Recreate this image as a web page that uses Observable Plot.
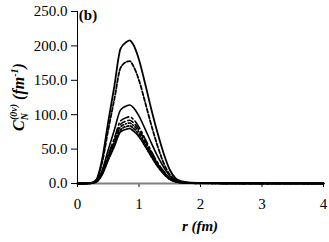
<!DOCTYPE html>
<html><head><meta charset="utf-8">
<script src="https://cdn.jsdelivr.net/npm/d3@7"></script>
<script src="https://cdn.jsdelivr.net/npm/@observablehq/plot@0.6"></script>
<style>
body{margin:0;background:#fff;position:relative;width:329px;height:242px}
#xlabel{position:absolute;left:200px;top:218px;transform:translateX(-50%);font:italic bold 15px "Liberation Serif";line-height:16px;white-space:nowrap;color:#000}
</style>
</head><body><div id="chart"></div>
<div id="xlabel">r (fm)</div>
<script>
const r  = [0,0.1,0.2,0.3,0.4,0.5,0.6,0.7,0.8,0.85,0.9,1.0,1.1,1.2,1.3,1.4,1.5,1.6,1.7,1.8,2.0,2.5,3.0,3.5,4.0];
const s1 = [0,0,0.5,5,35,90,142,196,206,208,203,180,145,108,74,44,20,7,3,1.5,0.8,0.4,0.2,0.1,0.05];
const s2 = [0,0,0.4,4,30,78,123,168,177,178,172,150,118,85,55,30,13,5,2,1,0.5,0.3,0.15,0.1,0.05];
const s3 = [0,0,0.3,3,19,49,78,107,113,114,111,98,79,59,40,24,11,4,2,1,0.5,0.2,0.1,0.05,0];
const s4 = [0,0,0.2,2.5,16,42,66,91,96,97,94,82,65,47,31,18,8,3,1.5,0.8,0.4,0.2,0.1,0.05,0];
const s5 = [0,0,0.2,2.4,15,40,63,86,91,92,89,78,62,45,29,17,7.5,3,1.4,0.7,0.4,0.2,0.1,0.05,0];
const s6 = [0,0,0.2,2.3,14,38,60,82,87,88,85,75,59,43,28,16,7,2.8,1.3,0.7,0.4,0.2,0.1,0.05,0];
const s7 = [0,0,0.2,2.2,13.5,36,57,78,83,84,81,71,56,41,27,15,6.5,2.6,1.2,0.6,0.3,0.15,0.1,0.05,0];
const s8 = [0,0,0.2,2.1,13,34,54,75,79,80,77,68,54,39,25,14,6,2.4,1.1,0.6,0.3,0.15,0.1,0.05,0];
const seriesNames = ["s1","s2","s3","s4","s5","s6","s7","s8"];
const seriesValues = [s1,s2,s3,s4,s5,s6,s7,s8];
const xTicks = [0,1,2,3,4];
const yTicks = [0,50,100,150,200,250];

const dashes = [null,"4,2",null,"9,3,2,3","6,3","3,2,1,2","2,2","1.5,1.5"];
const widths = [1.8,1.8,1.6,1.6,1.6,1.6,1.8,1.8];

const data = seriesValues.flatMap((vals,i)=>vals.map((v,j)=>({r:r[j], c:v, s:seriesNames[i]})));

const chart = Plot.plot({
  width:329, height:216,
  marginLeft:77, marginRight:6, marginTop:11, marginBottom:33,
  style:{fontFamily:"Liberation Serif", fontSize:"15px"},
  x:{domain:[0,4]},
  y:{domain:[0,250]},
  marks:[
    Plot.axisX({ticks:xTicks, tickFormat:d=>String(d), tickSize:4, tickPadding:11, label:null}),
    Plot.axisY({ticks:yTicks, tickFormat:d=>d.toFixed(1), tickSize:6, tickPadding:4, label:null}),
    Plot.ruleY([0],{stroke:"#808080", strokeWidth:2}),
    ...seriesNames.map((name,i)=>Plot.line(data.filter(d=>d.s===name),{x:"r", y:"c", stroke:"#000", strokeWidth:widths[i], strokeDasharray:dashes[i], curve:"monotone-x"})),
    Plot.ruleX([0],{stroke:"#000", strokeWidth:1})
  ]
});
document.getElementById("chart").append(chart);

const svg = d3.select(chart);
svg.append("text").attr("x",88).attr("y",20).attr("font-size",15).attr("font-weight","bold").attr("fill","#000").text("(b)");
const yl = svg.append("text").attr("transform","translate(24,97) rotate(-90)").attr("text-anchor","middle").attr("font-size",16).attr("font-weight","bold").attr("font-style","italic").attr("fill","#000");
yl.append("tspan").text("C");
yl.append("tspan").attr("font-size",10).attr("dy",4).text("N");
yl.append("tspan").attr("font-size",10).attr("dx",-7).attr("dy",-11).text("(0ν)");
yl.append("tspan").attr("dy",7).text(" (fm");
yl.append("tspan").attr("font-size",10).attr("dy",-6).text("-1");
yl.append("tspan").attr("dy",6).text(")");
svg.selectAll("text").attr("font-family","Liberation Serif");
</script>
</body></html>
